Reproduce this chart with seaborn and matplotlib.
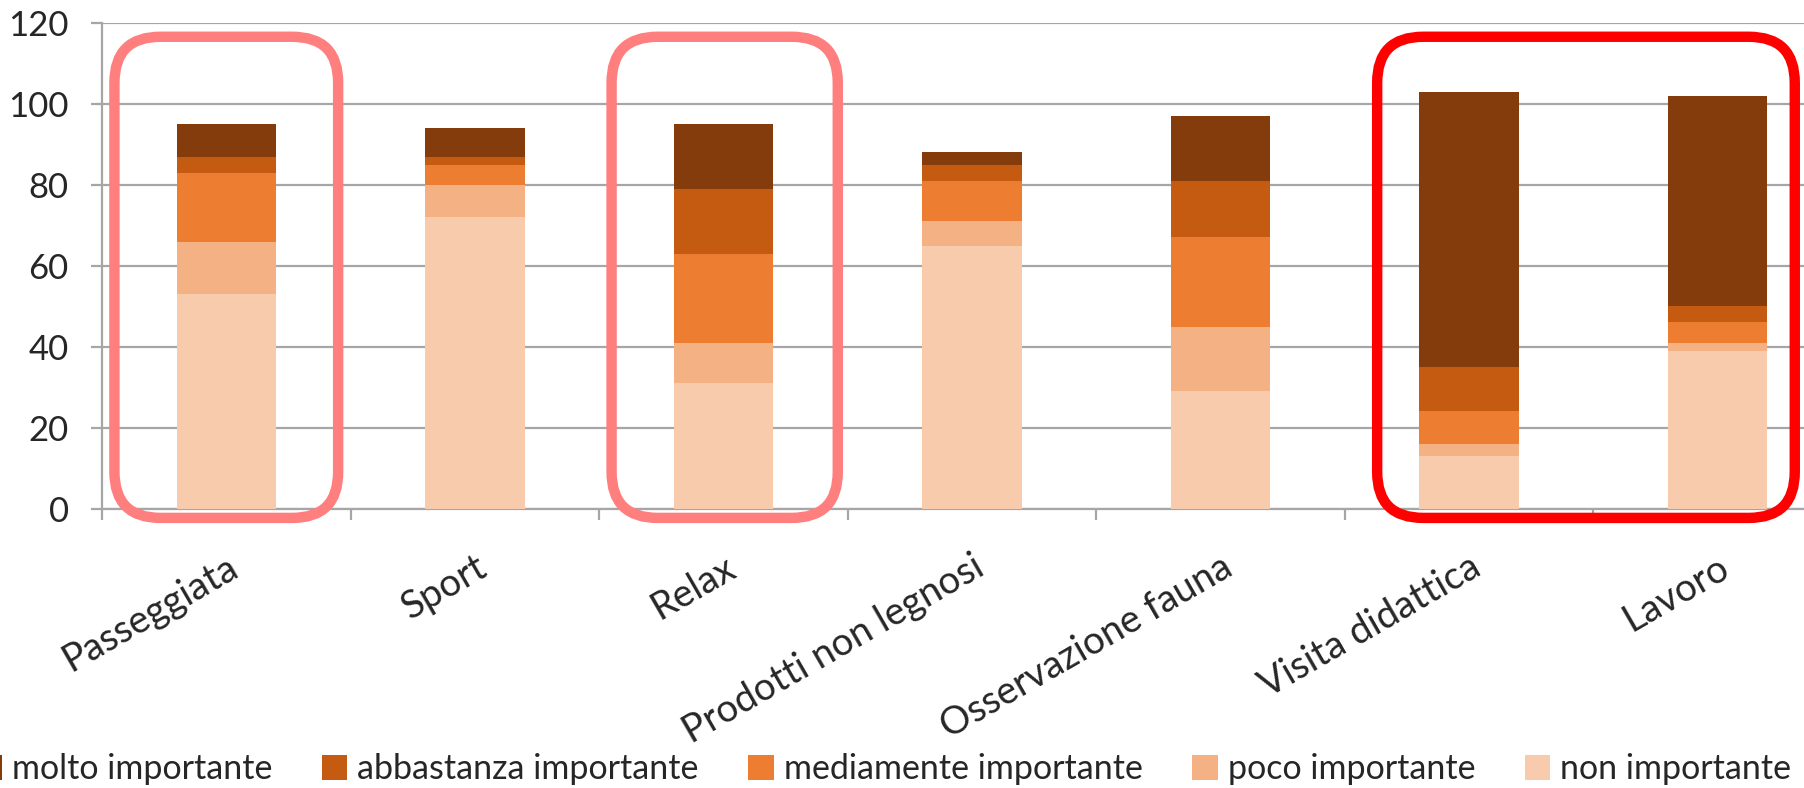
import numpy as np
import pandas as pd
import matplotlib
matplotlib.use("Agg")
import matplotlib.pyplot as plt
from matplotlib.patches import FancyBboxPatch, Patch
import seaborn as sns

categories = ["Passeggiata", "Sport", "Relax", "Prodotti non legnosi",
              "Osservazione fauna", "Visita didattica", "Lavoro"]
non_importante = [53, 72, 31, 65, 29, 13, 39]
poco_importante = [13, 8, 10, 6, 16, 3, 2]
mediamente_importante = [17, 5, 22, 10, 22, 8, 5]
abbastanza_importante = [4, 2, 16, 4, 14, 11, 4]
molto_importante = [8, 7, 16, 3, 16, 68, 52]

levels = ["non importante", "poco importante", "mediamente importante",
          "abbastanza importante", "molto importante"]
colors = ["#F8CBAD", "#F4B183", "#ED7D31", "#C55A11", "#843C0C"]
y_ticks = [0, 20, 40, 60, 80, 100, 120]

sns.set_theme(style="white")
plt.rcParams["font.family"] = ["Lato", "DejaVu Sans"]

series = [non_importante, poco_importante, mediamente_importante,
          abbastanza_importante, molto_importante]
cum = np.cumsum(np.array(series), axis=0)

fig = plt.figure(figsize=(18.04, 7.88), dpi=100)
ax = fig.add_axes([102 / 1804, 279.4 / 788, 1740 / 1804, 485.6 / 788])

# stacked bars: draw cumulative totals from top level down
for i in range(len(levels) - 1, -1, -1):
    df = pd.DataFrame({"cat": categories, "val": cum[i]})
    sns.barplot(data=df, x="cat", y="val", order=categories, color=colors[i],
                saturation=1, width=0.4, ax=ax, linewidth=0, zorder=3)

ax.set_xlim(-0.5, len(categories) - 0.5)
ax.set_ylim(0, 120)
ax.set_yticks(y_ticks)
ax.set_xlabel("")
ax.set_ylabel("")
ax.yaxis.grid(True, color="#A6A6A6", linewidth=1.6, zorder=0)
ax.set_axisbelow(True)
for s in ["top", "right"]:
    ax.spines[s].set_visible(False)
for s in ["left", "bottom"]:
    ax.spines[s].set_color("#A6A6A6")
    ax.spines[s].set_linewidth(1.6)

# x ticks: marks at boundaries, labels at centres
ax.set_xticks(np.arange(-0.5, len(categories), 1.0))
ax.set_xticklabels([])
ax.set_xticks(np.arange(len(categories)), minor=True)
ax.set_xticklabels(categories, minor=True, rotation=30, ha="right",
                   rotation_mode="anchor", fontsize=27.5)
ax.tick_params(axis="x", which="major", length=8, width=1.6, color="#A6A6A6",
               direction="out", bottom=True)
ax.tick_params(axis="x", which="minor", length=0, pad=29, bottom=True)
ax.tick_params(axis="y", which="major", length=8, width=1.6, color="#A6A6A6",
               direction="out", left=True, pad=16, labelsize=25)

# highlight boxes (pixel-corrected rounding)
p0 = ax.transData.transform((0, 0))
p1 = ax.transData.transform((1, 1))
xpx = p1[0] - p0[0]
ypx = p1[1] - p0[1]
aspect = xpx / ypx
r = 46 / xpx
boxes = [(-0.45, 0.45, "#FF7F7F"), (1.55, 2.46, "#FF7F7F"), (4.63, 6.31, "#FF0000")]
for x0, x1, col in boxes:
    y0, y1 = -2.3, 116.6
    patch = FancyBboxPatch((x0, y0), x1 - x0, y1 - y0,
                           boxstyle=f"round,pad=0,rounding_size={r}",
                           mutation_aspect=aspect, fill=False, edgecolor=col,
                           linewidth=7.5, zorder=5, clip_on=False)
    ax.add_patch(patch)

handles = [Patch(facecolor=colors[i], edgecolor="none") for i in range(len(levels) - 1, -1, -1)]
labels = [levels[i] for i in range(len(levels) - 1, -1, -1)]
fig.legend(handles, labels, loc="center right", bbox_to_anchor=(0.993, 0.024), ncol=5,
           frameon=False, fontsize=24.5, handlelength=0.75, handleheight=0.75,
           handletextpad=0.3, columnspacing=1.45, borderpad=0, borderaxespad=0)

fig.savefig("out.png", dpi=100)
